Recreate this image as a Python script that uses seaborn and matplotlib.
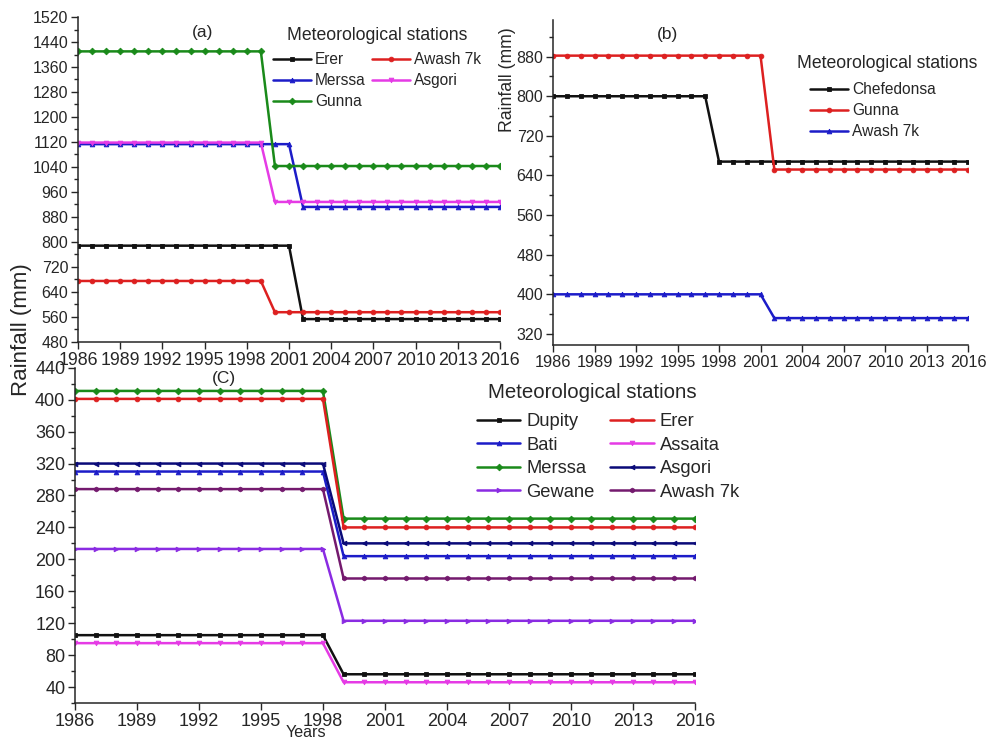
import numpy as np
import pandas as pd
import seaborn as sns
import matplotlib.pyplot as plt
from matplotlib.ticker import MultipleLocator

sns.set_style("ticks")
plt.rcParams['font.family'] = ['Liberation Sans', 'DejaVu Sans']

years = np.arange(1986, 2017)

# panel (a): value before shift, value after shift, last year before shift
a_names = ['Erer', 'Merssa', 'Gunna', 'Awash 7k', 'Asgori']
a_before = [788, 1113, 1410, 675, 1118]
a_after = [553, 912, 1043, 575, 928]
a_shift = [2001, 2001, 1999, 1999, 1999]
a_colors = ['#111111', '#1c1cc8', '#1a8a1a', '#dd2020', '#e53be5']
a_markers = ['s', '^', 'D', 'o', 'v']

# panel (b)
b_names = ['Chefedonsa', 'Gunna', 'Awash 7k']
b_before = [800, 882, 400]
b_after = [668, 652, 352]
b_shift = [1997, 2001, 2001]
b_colors = ['#111111', '#dd2020', '#1c1cc8']
b_markers = ['s', 'o', '^']

# panel (C)
c_names = ['Dupity', 'Bati', 'Merssa', 'Gewane', 'Erer', 'Assaita', 'Asgori', 'Awash 7k']
c_before = [105, 310, 411, 213, 401, 95, 320, 288]
c_after = [56, 204, 251, 123, 240, 46, 220, 176]
c_shift = [1998] * 8
c_colors = ['#111111', '#1c1cc8', '#1a8a1a', '#8a2be2', '#dd2020', '#e53be5', '#0a0a78', '#741a6e']
c_markers = ['s', '^', 'D', '>', 'o', 'v', '<', 'h']

W, H = 990, 740


def px(x, y):
    # figure fraction from pixel position (top-left origin)
    return x / W, 1 - y / H


def draw(ax, names, before, after, shift, colors, markers):
    for n, b, a, s, c, m in zip(names, before, after, shift, colors, markers):
        vals = np.where(years <= s, b, a)
        df = pd.DataFrame({'Year': years, 'Rainfall': vals})
        sns.lineplot(data=df, x='Year', y='Rainfall', ax=ax, color=c, marker=m,
                     markersize=3.4, markeredgewidth=0.6, markeredgecolor=c,
                     linewidth=1.8, label=n)
    ax.set_xlim(1986, 2016)
    ax.xaxis.set_major_locator(MultipleLocator(3))
    ax.set_xlabel('')
    ax.set_ylabel('')
    sns.despine(ax=ax)
    ax.tick_params(which='major', length=5, width=1, direction='out')
    ax.tick_params(which='minor', length=3, width=1, direction='out')
    for sp in ax.spines.values():
        sp.set_linewidth(1.1)


def station_legend(ax, ncol, fs, x, y, hl, htp, cs, ls):
    ax.legend(ncol=ncol, frameon=False, fontsize=fs, loc='upper left',
              bbox_to_anchor=px(x, y), bbox_transform=fig.transFigure,
              borderpad=0, borderaxespad=0, handlelength=hl, handletextpad=htp,
              columnspacing=cs, labelspacing=ls)


fig = plt.figure(figsize=(9.9, 7.4), dpi=100)

ax_a = fig.add_axes([0.0788, 0.538, 0.4262, 0.439])
draw(ax_a, a_names, a_before, a_after, a_shift, a_colors, a_markers)
ax_a.set_ylim(480, 1520)
ax_a.yaxis.set_major_locator(MultipleLocator(80))
ax_a.yaxis.set_minor_locator(MultipleLocator(40))
ax_a.tick_params(axis='y', labelsize=11.5, pad=2)
ax_a.tick_params(axis='x', labelsize=12.8, pad=2)
ax_a.text(0.27, 0.94, '(a)', fontsize=12.5, transform=ax_a.transAxes)
station_legend(ax_a, 2, 11.2, 273, 52, 2.44, 0.26, 0.4, 0.4)
fig.text(*px(377, 35), 'Meteorological stations', fontsize=12.7, ha='center', va='center')

ax_b = fig.add_axes([0.5586, 0.534, 0.4192, 0.439])
draw(ax_b, b_names, b_before, b_after, b_shift, b_colors, b_markers)
ax_b.set_ylim(298, 954)
ax_b.yaxis.set_minor_locator(MultipleLocator(40))
ax_b.set_yticks(np.arange(320, 950, 80))
ax_b.tick_params(axis='y', labelsize=11.5, pad=2)
ax_b.tick_params(axis='x', labelsize=11.8, pad=2)
ax_b.set_ylabel('Rainfall (mm)', fontsize=12.7, labelpad=1)
ax_b.yaxis.set_label_coords(-0.09, 0.815)
ax_b.text(0.25, 0.94, '(b)', fontsize=12.5, transform=ax_b.transAxes)
station_legend(ax_b, 1, 11.2, 810, 82, 2.44, 0.26, 0.4, 0.4)
fig.text(*px(887, 63), 'Meteorological stations', fontsize=12.7, ha='center', va='center')

ax_c = fig.add_axes([0.0758, 0.05, 0.626, 0.453])
draw(ax_c, c_names, c_before, c_after, c_shift, c_colors, c_markers)
ax_c.set_ylim(20, 440)
ax_c.yaxis.set_major_locator(MultipleLocator(40))
ax_c.yaxis.set_minor_locator(MultipleLocator(20))
ax_c.tick_params(axis='both', labelsize=13, pad=2)
ax_c.text(0.22, 0.955, '(C)', fontsize=12.5, transform=ax_c.transAxes)
station_legend(ax_c, 2, 13.2, 477, 413, 2.35, 0.33, 0.87, 0.36)
fig.text(*px(592, 393), 'Meteorological stations', fontsize=14.7, ha='center', va='center')

fig.text(0.022, 0.555, 'Rainfall (mm)', rotation=90, fontsize=16, ha='center', va='center')
fig.text(0.309, 0.0, 'Years', fontsize=11.6, ha='center', va='bottom')

fig.savefig('out.png', dpi=100)
